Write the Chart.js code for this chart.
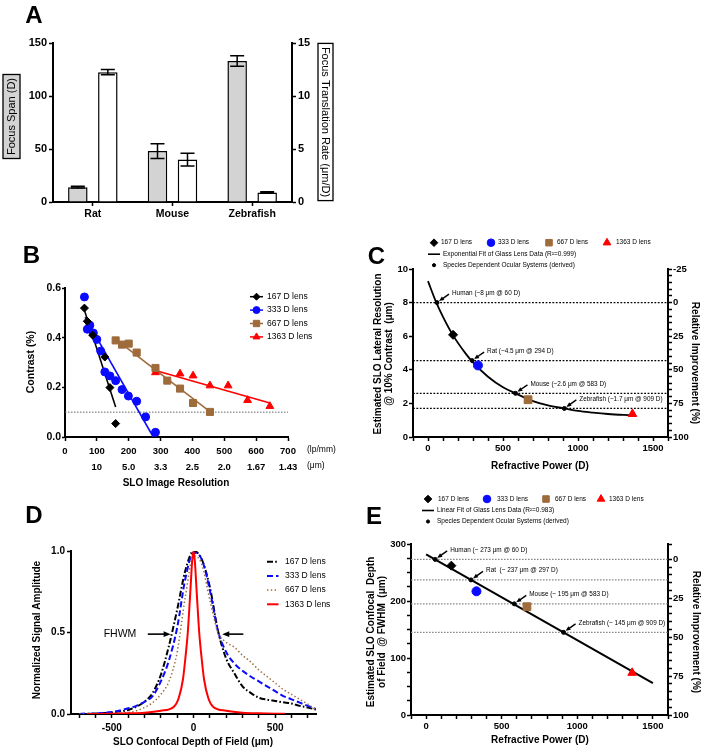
<!DOCTYPE html>
<html>
<head>
<meta charset="utf-8">
<script src="https://cdn.jsdelivr.net/npm/chart.js@4.4.1/dist/chart.umd.min.js"></script>
<style>
  html, body { margin: 0; padding: 0; background: #fff; }
  #page { position: relative; width: 702px; height: 750px; overflow: hidden; background: #fff; }
  canvas { position: absolute; }
</style>
</head>
<body>
<div id="page">
  <canvas id="chartA" width="350" height="222" style="left:0px;top:0px"></canvas>
  <canvas id="chartB" width="350" height="265" style="left:0px;top:225px"></canvas>
  <canvas id="chartC" width="362" height="265" style="left:340px;top:220px"></canvas>
  <canvas id="chartD" width="350" height="260" style="left:0px;top:490px"></canvas>
  <canvas id="chartE" width="362" height="270" style="left:340px;top:480px"></canvas>
</div>
<script>
// ---- A: focus span / translation rate
const species = ['Rat', 'Mouse', 'Zebrafish'];
const focusSpan = [14, 48, 133];
const focusSpanErr = [0.8, 7, 5];
const translationRate = [12.25, 4.0, 0.9];
const translationRateErr = [0.25, 0.6, 0.06];

// ---- lenses (B, C, D, E)
const lensLabels = ['167 D lens', '333 D lens', '667 D lens', '1363 D lens'];
const lensColors = ['#000000', '#0a0aff', '#9e6b3b', '#ff0000'];
const lensStyles = ['rectRot', 'circle', 'rect', 'triangle'];

// ---- B: contrast vs resolution
const resLabels = ['', '10', '5.0', '3.3', '2.5', '2.0', '1.67', '1.43'];
const b167x = [61, 70, 87, 125, 141, 159];
const b167y = [0.519, 0.466, 0.41, 0.322, 0.199, 0.054];
const b167fitX = [57, 159];
const b167fitY = [0.526, 0.121];
const b333x = [61, 70, 78, 89, 100, 112, 125, 141, 159, 179, 199, 225, 253, 284];
const b333y = [0.564, 0.434, 0.45, 0.419, 0.393, 0.346, 0.262, 0.246, 0.227, 0.191, 0.165, 0.144, 0.081, 0.019];
const b333fitX = [63, 277];
const b333fitY = [0.483, 0];
const b667x = [159, 179, 200, 225, 284, 321, 361, 402, 455];
const b667y = [0.389, 0.372, 0.376, 0.34, 0.278, 0.227, 0.195, 0.137, 0.101];
const b667fitX = [152, 457];
const b667fitY = [0.4, 0.1];
const b1363x = [284, 361, 402, 455, 512, 573, 643];
const b1363y = [0.26, 0.255, 0.247, 0.207, 0.207, 0.148, 0.124];
const b1363fitX = [284, 643];
const b1363fitY = [0.268, 0.137];
const contrastLimit = 0.1;

// ---- C: lateral resolution vs refractive power
const lensPower = [167, 333, 667, 1363];
const cLensRes = [6.08, 4.26, 2.22, 1.37];
const cFitX = [0, 50, 100, 167, 250, 300, 400, 500, 583, 700, 800, 909, 1000, 1100, 1200, 1360];
const cFitY = [9.28, 8.12, 7.15, 6.05, 4.98, 4.44, 3.59, 2.96, 2.6, 2.14, 1.88, 1.7, 1.55, 1.45, 1.37, 1.29];
const cSpeciesPower = [60, 294, 583, 909];
const cSpeciesRes = [8, 4.55, 2.6, 1.7];
const cSpeciesLabels = ['Human (~8 \u03bcm @ 60 D)', 'Rat (~4.5 \u03bcm @ 294 D)', 'Mouse (~2.6 \u03bcm @ 583 D)', 'Zebrafish (~1.7 \u03bcm @ 909 D)'];

// ---- D: axial response
const dofX = [-700, -600, -500, -400, -350, -300, -250, -200, -150, -100, -50, 0, 50, 100, 150, 200, 250, 300, 350, 400, 450, 500, 550, 600, 650, 700, 750];
const dof167 = [0, 0.003, 0.01, 0.025, 0.045, 0.075, 0.13, 0.24, 0.42, 0.64, 0.88, 1.0, 0.95, 0.78, 0.51, 0.34, 0.25, 0.17, 0.13, 0.1, 0.088, 0.08, 0.072, 0.065, 0.05, 0.04, 0.027];
const dof333 = [0, 0.004, 0.012, 0.035, 0.05, 0.075, 0.11, 0.2, 0.33, 0.53, 0.83, 0.99, 0.95, 0.76, 0.51, 0.38, 0.31, 0.265, 0.23, 0.2, 0.17, 0.14, 0.11, 0.09, 0.07, 0.05, 0.03];
const dof667 = [0, 0.001, 0.003, 0.01, 0.02, 0.04, 0.07, 0.12, 0.2, 0.38, 0.72, 0.97, 0.92, 0.7, 0.5, 0.44, 0.41, 0.36, 0.32, 0.27, 0.23, 0.19, 0.15, 0.12, 0.09, 0.06, 0.027];
const dofRedX = [-650, -500, -400, -300, -200, -120, -90, -65, -50, -35, -20, -8, 0, 8, 20, 35, 50, 65, 90, 120, 200, 300, 400, 560];
const dof1363 = [0, 0.002, 0.004, 0.008, 0.02, 0.045, 0.1, 0.21, 0.34, 0.5, 0.74, 0.94, 1.0, 0.94, 0.74, 0.5, 0.34, 0.21, 0.1, 0.045, 0.02, 0.008, 0.004, 0.001];
const dofTicks = [-700, -600, -500, -400, -300, -200, -100, 0, 100, 200, 300, 400, 500, 600, 700];

// ---- E: depth of field vs refractive power
const eLensDof = [262, 217, 190, 74];
const eFitX = [0, 1500];
const eFitY = [282, 56];
const eSpeciesPower = [60, 297, 583, 909];
const eSpeciesDof = [273, 237, 195, 145];
const eSpeciesLabels = ['Human (~ 273 \u03bcm @ 60 D)', 'Rat  (~ 237 \u03bcm @ 297 D)', 'Mouse (~ 195 \u03bcm @ 583 D)', 'Zebrafish (~ 145 \u03bcm @ 909 D)'];

const FONT = '"Liberation Sans", Arial, Helvetica, sans-serif';
Chart.defaults.font.family = FONT;
Chart.defaults.color = '#000';
Chart.defaults.animation = false;
Chart.defaults.plugins.legend.display = false;
Chart.defaults.plugins.tooltip.enabled = false;

const pts = (xs, ys) => xs.map((x, i) => ({ x: x, y: ys[i] }));
const isMajor = (v, m) => Math.abs(v / m - Math.round(v / m)) < 1e-6;

function fixSize(px) {
  return function (scale) {
    if (scale.isHorizontal()) scale.height = px;
    else scale.width = px;
  };
}

function linAxis(o) {
  const ax = {
    type: 'linear',
    position: o.position,
    min: o.min,
    max: o.max,
    reverse: !!o.reverse,
    afterFit: fixSize(o.size),
    border: { display: true, color: '#000', width: 2 },
    grid: { drawOnChartArea: false, tickLength: o.tick || 4, tickWidth: 1.5, tickColor: '#000' },
    ticks: {
      stepSize: o.step,
      autoSkip: false,
      maxRotation: 0,
      padding: o.pad == null ? 2 : o.pad,
      font: { size: o.fontSize || 10, weight: 'bold', lineHeight: o.lineHeight || 1.2 },
      callback: o.label || (v => isMajor(v, o.major) ? (o.fmt ? o.fmt(v) : String(v)) : '')
    }
  };
  // fixed tick positions when the range does not start on a step
  if (o.ticksAt) ax.afterBuildTicks = s => { s.ticks = o.ticksAt.map(v => ({ value: v })); };
  return ax;
}

function drawMarker(ctx, style, x, y, r, color) {
  ctx.save();
  ctx.fillStyle = color;
  ctx.strokeStyle = color;
  ctx.lineWidth = 1;
  ctx.beginPath();
  if (style === 'circle') ctx.arc(x, y, r, 0, Math.PI * 2);
  else if (style === 'rectRot') { ctx.moveTo(x, y - r); ctx.lineTo(x + r, y); ctx.lineTo(x, y + r); ctx.lineTo(x - r, y); ctx.closePath(); }
  else if (style === 'rect') { const s = r * Math.SQRT1_2; ctx.rect(x - s, y - s, 2 * s, 2 * s); }
  else if (style === 'triangle') { ctx.moveTo(x, y - r); ctx.lineTo(x + r * 0.87, y + r * 0.5); ctx.lineTo(x - r * 0.87, y + r * 0.5); ctx.closePath(); }
  ctx.fill();
  ctx.stroke();
  ctx.restore();
}

function arrow(ctx, x1, y1, x2, y2, head, width) {
  const a = Math.atan2(y2 - y1, x2 - x1);
  const c = Math.cos(a), s = Math.sin(a), hw = head * 0.42;
  ctx.save();
  ctx.strokeStyle = '#000';
  ctx.fillStyle = '#000';
  ctx.lineWidth = width;
  ctx.beginPath();
  ctx.moveTo(x1, y1);
  ctx.lineTo(x2 - c * head * 0.8, y2 - s * head * 0.8);
  ctx.stroke();
  ctx.beginPath();
  ctx.moveTo(x2, y2);
  ctx.lineTo(x2 - head * c + hw * s, y2 - head * s - hw * c);
  ctx.lineTo(x2 - head * c - hw * s, y2 - head * s + hw * c);
  ctx.closePath();
  ctx.fill();
  ctx.restore();
}

// free text: panel letters, axis titles, unit rows
const decor = {
  id: 'decor',
  afterDraw(chart, args, opts) {
    const ctx = chart.ctx;
    (opts.texts || []).forEach(t => {
      ctx.save();
      ctx.font = (t.weight || 'normal') + ' ' + t.size + 'px ' + FONT;
      ctx.textAlign = t.align || 'center';
      ctx.textBaseline = 'middle';
      ctx.translate(t.x, t.y);
      if (t.rot) ctx.rotate(t.rot * Math.PI / 180);
      if (t.box) {
        const w = ctx.measureText(t.text).width + 2 * t.box.pad;
        ctx.fillStyle = t.box.fill;
        ctx.fillRect(-w / 2, -t.box.h / 2, w, t.box.h);
        ctx.strokeStyle = '#000';
        ctx.lineWidth = 1.3;
        ctx.strokeRect(-w / 2, -t.box.h / 2, w, t.box.h);
      }
      ctx.fillStyle = '#000';
      ctx.fillText(t.text, 0, 0);
      ctx.restore();
    });
  }
};

// hand placed key
const keyPlugin = {
  id: 'key',
  afterDraw(chart, args, opts) {
    const ctx = chart.ctx;
    (opts.items || []).forEach(it => {
      if (it.line) {
        ctx.save();
        ctx.strokeStyle = it.color;
        ctx.lineWidth = it.line.width || 1.5;
        ctx.setLineDash(it.line.dash || []);
        ctx.beginPath();
        ctx.moveTo(it.x, it.y);
        ctx.lineTo(it.x + it.line.len, it.y);
        ctx.stroke();
        ctx.restore();
      }
      if (it.marker) drawMarker(ctx, it.marker, it.mx, it.y, it.r, it.color);
      ctx.save();
      ctx.font = opts.size + 'px ' + FONT;
      ctx.fillStyle = '#000';
      ctx.textAlign = 'left';
      ctx.textBaseline = 'middle';
      ctx.fillText(it.label, it.tx, it.y);
      ctx.restore();
    });
  }
};

const errorBars = {
  id: 'errorBars',
  afterDatasetsDraw(chart) {
    const ctx = chart.ctx;
    chart.data.datasets.forEach((ds, i) => {
      if (!ds.errors) return;
      const sc = chart.scales[ds.yAxisID];
      chart.getDatasetMeta(i).data.forEach((bar, j) => {
        const v = ds.data[j], e = ds.errors[j];
        const yt = sc.getPixelForValue(v + e), yb = sc.getPixelForValue(v - e);
        ctx.save();
        ctx.strokeStyle = '#000';
        ctx.lineWidth = 1.5;
        ctx.beginPath();
        ctx.moveTo(bar.x, yt); ctx.lineTo(bar.x, yb);
        ctx.moveTo(bar.x - 7, yt); ctx.lineTo(bar.x + 7, yt);
        ctx.moveTo(bar.x - 7, yb); ctx.lineTo(bar.x + 7, yb);
        ctx.stroke();
        ctx.restore();
      });
    });
  }
};

// arrows + labels pointing at species points
const callouts = {
  id: 'callouts',
  afterDatasetsDraw(chart, args, opts) {
    const ctx = chart.ctx, sx = chart.scales.x, sy = chart.scales.y;
    (opts.xs || []).forEach((v, i) => {
      const px = sx.getPixelForValue(v), py = sy.getPixelForValue(opts.ys[i]);
      const tx = px + 12, ty = py - 8.5;
      arrow(ctx, tx, ty, px + 2, py - 1.5, 5, 1.4);
      ctx.save();
      ctx.font = opts.size + 'px ' + FONT;
      ctx.fillStyle = '#000';
      ctx.textAlign = 'left';
      ctx.textBaseline = 'middle';
      ctx.fillText(opts.labels[i], tx + 3, ty - 1);
      ctx.restore();
    });
    (opts.arrows || []).forEach(a => {
      arrow(ctx, sx.getPixelForValue(a.from[0]), sy.getPixelForValue(a.from[1]),
        sx.getPixelForValue(a.to[0]), sy.getPixelForValue(a.to[1]), 7, 1.6);
    });
  }
};

const plugins = [decor, keyPlugin, errorBars, callouts];

// ================= A
new Chart(document.getElementById('chartA'), {
  type: 'bar',
  data: {
    labels: species,
    datasets: [
      { label: 'Focus Span (D)', data: focusSpan, errors: focusSpanErr, yAxisID: 'y',
        backgroundColor: '#d3d3d3', borderColor: '#000', borderWidth: 1.5,
        categoryPercentage: 0.753, barPercentage: 0.65 },
      { label: 'Focus Translation Rate (\u03bcm/D)', data: translationRate, errors: translationRateErr, yAxisID: 'y1',
        backgroundColor: '#ffffff', borderColor: '#000', borderWidth: 1.5,
        categoryPercentage: 0.753, barPercentage: 0.65 }
    ]
  },
  options: {
    responsive: false,
    devicePixelRatio: 1,
    layout: { padding: { top: 43, left: 0, right: 0, bottom: 0 } },
    scales: {
      x: {
        type: 'category',
        afterFit: fixSize(20),
        border: { display: true, color: '#000', width: 2 },
        grid: { offset: false, drawOnChartArea: false, tickLength: 4, tickWidth: 1.5, tickColor: '#000' },
        ticks: { padding: 2, font: { size: 10.5, weight: 'bold' } }
      },
      y: linAxis({ position: 'left', min: 0, max: 150, step: 50, major: 50, size: 53, fontSize: 11 }),
      y1: linAxis({ position: 'right', min: 0, max: 15, step: 5, major: 5, size: 58, fontSize: 11 })
    },
    plugins: {
      decor: { texts: [
        { text: 'A', x: 34, y: 16, size: 24, weight: 'bold' },
        { text: 'Focus Span (D)', x: 11.5, y: 116.5, size: 11, rot: -90, box: { pad: 3.5, h: 17, fill: '#d3d3d3' } },
        { text: 'Focus Translation Rate (\u03bcm/D)', x: 325.5, y: 122, size: 11, rot: 90, box: { pad: 3.5, h: 15, fill: '#ffffff' } }
      ] }
    }
  },
  plugins: plugins
});

// ================= B
const bSets = [[b167x, b167y, b167fitX, b167fitY], [b333x, b333y, b333fitX, b333fitY],
  [b667x, b667y, b667fitX, b667fitY], [b1363x, b1363y, b1363fitX, b1363fitY]];
const bMarkerR = [4, 4, 5, 4.5];
const bData = [];
bSets.forEach((s, i) => {
  bData.push({ label: lensLabels[i], data: pts(s[0], s[1]), showLine: false, pointStyle: lensStyles[i],
    pointRadius: bMarkerR[i], backgroundColor: lensColors[i], borderColor: lensColors[i], pointBorderWidth: 1 });
});
bSets.forEach((s, i) => {
  bData.push({ label: lensLabels[i] + ' fit', data: pts(s[2], s[3]), showLine: true, pointRadius: 0,
    borderColor: lensColors[i], borderWidth: 1.6 });
});
bData.push({ label: '10% contrast', data: pts([0, 700], [contrastLimit, contrastLimit]), showLine: true, pointRadius: 0,
  borderColor: '#666', borderWidth: 1, borderDash: [1.5, 1.5] });

new Chart(document.getElementById('chartB'), {
  type: 'scatter',
  data: { datasets: bData },
  options: {
    responsive: false,
    devicePixelRatio: 1,
    layout: { padding: { top: 63, left: 0, right: 62, bottom: 0 } },
    scales: {
      x: linAxis({ position: 'bottom', min: 0, max: 700, step: 100, size: 53, fontSize: 9.5, lineHeight: 1.65, pad: 3,
        label: v => [String(v), resLabels[Math.round(v / 100)]] }),
      y: linAxis({ position: 'left', min: 0, max: 0.6, step: 0.2, major: 0.2, size: 65, fontSize: 10.5, tick: 3, pad: 1,
        fmt: v => v.toFixed(1) })
    },
    plugins: {
      decor: { texts: [
        { text: 'B', x: 31.5, y: 31.5, size: 24, weight: 'bold' },
        { text: 'Contrast (%)', x: 31, y: 137, size: 10.5, weight: 'bold', rot: -90 },
        { text: 'SLO Image Resolution', x: 176, y: 258, size: 10, weight: 'bold' },
        { text: '(lp/mm)', x: 307, y: 225, size: 8.5, align: 'left' },
        { text: '(\u03bcm)', x: 307, y: 241, size: 8.5, align: 'left' }
      ] },
      key: { size: 8.5, items: lensLabels.map((l, i) => ({
        label: l, color: lensColors[i], x: 250, y: 71.7 + i * 13.4, line: { len: 13, width: 1.5 },
        marker: lensStyles[i], mx: 256.5, r: bMarkerR[i] - 0.5, tx: 267 })) }
    }
  },
  plugins: plugins
});

// ================= C
const cData = [
  { label: 'Lenses', data: pts(lensPower, cLensRes), showLine: false, pointStyle: lensStyles,
    pointRadius: [4.5, 4.5, 5.5, 5], backgroundColor: lensColors, borderColor: lensColors },
  { label: 'Species Dependent Ocular Systems (derived)', data: pts(cSpeciesPower, cSpeciesRes), showLine: false,
    pointRadius: 2, backgroundColor: '#000', borderColor: '#000' },
  { label: 'Exponential Fit of Glass Lens Data (R\u00b2=0.999)', data: pts(cFitX, cFitY), showLine: true, pointRadius: 0,
    borderColor: '#000', borderWidth: 1.8, cubicInterpolationMode: 'monotone' }
];
cSpeciesRes.forEach(v => cData.push({ label: 'ref', data: pts([-100, 1600], [v, v]), showLine: true, pointRadius: 0,
  borderColor: '#000', borderWidth: 1.2, borderDash: [1.8, 1.6] }));

const cdKey = (y0, markerXs, textXs, lineX, fitLabel) => [
  ...lensLabels.map((l, i) => ({ label: l, color: lensColors[i], y: y0, marker: lensStyles[i], mx: markerXs[i],
    r: [3.8, 3.8, 4.6, 4.4][i], tx: textXs[i] })),
  { label: fitLabel, color: '#000', x: lineX, y: y0 + 11.5, line: { len: 12, width: 1.6 }, tx: lineX + 15 },
  { label: 'Species Dependent Ocular Systems (derived)', color: '#000', y: y0 + 22.5, marker: 'circle',
    mx: lineX + 6, r: 1.6, tx: lineX + 15 }
];

new Chart(document.getElementById('chartC'), {
  type: 'scatter',
  data: { datasets: cData },
  options: {
    responsive: false,
    devicePixelRatio: 1,
    layout: { padding: { top: 49, left: 0, right: 0, bottom: 0 } },
    scales: {
      x: linAxis({ position: 'bottom', min: -100, max: 1600, step: 100, major: 500, size: 48, fontSize: 9.5 }),
      y: linAxis({ position: 'left', min: 0, max: 10, step: 2, major: 2, size: 73, fontSize: 9.5, pad: 1 }),
      y1: linAxis({ position: 'right', min: -25, max: 100, reverse: true, step: 5, major: 25, size: 34, fontSize: 9.5, pad: 1 })
    },
    plugins: {
      decor: { texts: [
        { text: 'C', x: 36.5, y: 37.5, size: 24, weight: 'bold' },
        { text: 'Estimated SLO Lateral Resolution', x: 38, y: 134, size: 10, weight: 'bold', rot: -90 },
        { text: '@ 10% Contrast  (\u03bcm)', x: 49.5, y: 134, size: 10, weight: 'bold', rot: -90 },
        { text: 'Relative Improvement (%)', x: 355, y: 143, size: 10, weight: 'bold', rot: 90 },
        { text: 'Refractive Power (D)', x: 200, y: 246, size: 10, weight: 'bold' }
      ] },
      key: { size: 6.5, items: cdKey(22.7, [94, 151, 209, 267], [101, 158, 217, 276], 88,
        'Exponential Fit of Glass Lens Data (R\u00b2=0.999)') },
      callouts: { xs: cSpeciesPower, ys: cSpeciesRes, labels: cSpeciesLabels, size: 6.4 }
    }
  },
  plugins: plugins
});

// ================= D
const dDash = [[6, 2.2, 1.6, 2.2], [6, 3], [1.4, 2.4], []];
const dWidth = [2, 2, 1.5, 2];
const dCurves = [pts(dofX, dof167), pts(dofX, dof333), pts(dofX, dof667), pts(dofRedX, dof1363)];
const dColors = ['#000000', '#0a0aff', '#9e6b3b', '#ff0000'];

new Chart(document.getElementById('chartD'), {
  type: 'scatter',
  data: { datasets: dCurves.map((d, i) => ({ label: lensLabels[i], data: d, showLine: true, pointRadius: 0,
    borderColor: dColors[i], borderWidth: dWidth[i], borderDash: dDash[i], cubicInterpolationMode: 'monotone' })).reverse() },
  options: {
    responsive: false,
    devicePixelRatio: 1,
    layout: { padding: { top: 61, left: 0, right: 34, bottom: 0 } },
    scales: {
      x: linAxis({ position: 'bottom', min: -750, max: 750, step: 100, major: 500, size: 36, fontSize: 10, pad: 4,
        ticksAt: dofTicks }),
      y: linAxis({ position: 'left', min: 0, max: 1, step: 0.5, major: 0.5, size: 71, fontSize: 10, pad: 2,
        fmt: v => v.toFixed(1) })
    },
    plugins: {
      decor: { texts: [
        { text: 'D', x: 34, y: 26.5, size: 24, weight: 'bold' },
        { text: 'Normalized Signal Amplitude', x: 37, y: 140, size: 10, weight: 'bold', rot: -90 },
        { text: 'SLO Confocal Depth of Field (\u03bcm)', x: 193, y: 252, size: 10, weight: 'bold' },
        { text: 'FHWM', x: 120, y: 144, size: 10.5 }
      ] },
      key: { size: 8.5, items: lensLabels.map((l, i) => ({
        label: l, color: dColors[i], x: 267, y: 71.7 + i * 14.2, line: { len: 11.5, width: dWidth[i], dash: dDash[i] }, tx: 285 })) },
      callouts: { arrows: [{ from: [-280, 0.49], to: [-140, 0.49] }, { from: [305, 0.49], to: [176, 0.49] }] }
    }
  },
  plugins: plugins
});

// ================= E
const eData = [
  { label: 'Lenses', data: pts(lensPower, eLensDof), showLine: false, pointStyle: lensStyles,
    pointRadius: [4.5, 4.5, 5.5, 5], backgroundColor: lensColors, borderColor: lensColors },
  { label: 'Species Dependent Ocular Systems (derived)', data: pts(eSpeciesPower, eSpeciesDof), showLine: false,
    pointRadius: 2, backgroundColor: '#000', borderColor: '#000' },
  { label: 'Linear Fit of Glass Lens Data (R\u00b2=0.983)', data: pts(eFitX, eFitY), showLine: true, pointRadius: 0,
    borderColor: '#000', borderWidth: 2 }
];
eSpeciesDof.forEach(v => eData.push({ label: 'ref', data: pts([-100, 1600], [v, v]), showLine: true, pointRadius: 0,
  borderColor: '#8a8a8a', borderWidth: 1.2, borderDash: [1.6, 1.4] }));

new Chart(document.getElementById('chartE'), {
  type: 'scatter',
  data: { datasets: eData },
  options: {
    responsive: false,
    devicePixelRatio: 1,
    layout: { padding: { top: 64, left: 0, right: 0, bottom: 0 } },
    scales: {
      x: linAxis({ position: 'bottom', min: -100, max: 1600, step: 100, major: 500, size: 35, fontSize: 9.5 }),
      y: linAxis({ position: 'left', min: 0, max: 300, step: 25, major: 100, size: 71, fontSize: 9.5, pad: 1 }),
      y1: linAxis({ position: 'right', min: (273 - 300) / 273 * 100, max: 100, reverse: true, step: 5, major: 25,
        size: 34, fontSize: 9.5, pad: 1 })
    },
    plugins: {
      decor: { texts: [
        { text: 'E', x: 34, y: 37.5, size: 24, weight: 'bold' },
        { text: 'Estimated SLO Confocal  Depth', x: 31, y: 152, size: 10, weight: 'bold', rot: -90 },
        { text: 'of Field  @ FWHM  (\u03bcm)', x: 42.5, y: 152, size: 10, weight: 'bold', rot: -90 },
        { text: 'Relative Improvement (%)', x: 356, y: 152, size: 10, weight: 'bold', rot: 90 },
        { text: 'Refractive Power (D)', x: 200, y: 260, size: 10, weight: 'bold' }
      ] },
      key: { size: 6.5, items: cdKey(19, [88, 147, 206, 261], [98, 157, 215, 269], 82,
        'Linear Fit of Glass Lens Data (R\u00b2=0.983)') },
      callouts: { xs: eSpeciesPower, ys: eSpeciesDof, labels: eSpeciesLabels, size: 6.4 }
    }
  },
  plugins: plugins
});
</script>
</body>
</html>
